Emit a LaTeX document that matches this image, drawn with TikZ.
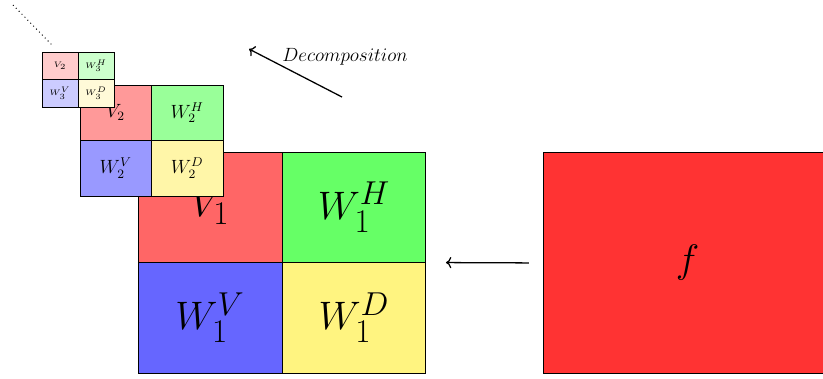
\documentclass[tikz,border=0pt]{standalone}
\usepackage{amsmath,amssymb}
\usepackage{tikz}
\usetikzlibrary{positioning,arrows.meta,calc}
\usepackage{xcolor}
\definecolor{sunYellow}{HTML}{FFF480}
\definecolor{paleYellow}{HTML}{FFF6A8}
\definecolor{ivoryYellow}{HTML}{FFFAD8}

\begin{document}
\begin{tikzpicture}[x=0.022cm, y=-0.022cm,
    cellBig/.style={rectangle, draw=black, semithick, outer sep=0pt, inner sep=0pt, minimum width=3.168cm, minimum height=2.431cm, font=\Huge},
    cellMid/.style={rectangle, draw=black, semithick, outer sep=0pt, inner sep=0pt, minimum width=1.573cm, minimum height=1.221cm, font=\large},
    cellSmall/.style={rectangle, draw=black, semithick, outer sep=0pt, inner sep=0pt, minimum width=0.792cm, minimum height=0.605cm, font=\tiny},
    arrowStyle/.style={->, thick, draw=black}
]
    \useasboundingbox (0,0) rectangle (823,378);

    \node[cellBig, fill=red!60, anchor=north west] (V1) at (138,152) {$V_1$};
    \node[cellBig, fill=green!60, right=0pt of V1] (W1H) {$W_1^H$};
    \node[cellBig, fill=blue!60, below=0pt of V1] (W1V) {$W_1^V$};
    \node[cellBig, fill=sunYellow, right=0pt of W1V] (W1D) {$W_1^D$};

    \node[cellMid, fill=red!40, anchor=north west] (V2) at (80,85) {$V_2$};
    \node[cellMid, fill=green!40, right=0pt of V2] (W2H) {$W_2^H$};
    \node[cellMid, fill=blue!40, below=0pt of V2] (W2V) {$W_2^V$};
    \node[cellMid, fill=paleYellow, right=0pt of W2V] (W2D) {$W_2^D$};

    \node[cellSmall, fill=red!20, anchor=north west] (V3) at (42,52) {$V_2$};
    \node[cellSmall, fill=green!20, right=0pt of V3] (W3H) {$W_3^H$};
    \node[cellSmall, fill=blue!20, below=0pt of V3] (W3V) {$W_3^V$};
    \node[cellSmall, fill=ivoryYellow, right=0pt of W3V] (W3D) {$W_3^D$};

    \node[rectangle, draw=black, semithick, fill=red!80, anchor=north west, minimum width=6.336cm, minimum height=4.862cm, font=\fontsize{29}{34}\selectfont] (f) at (543,152) {$f$};

    \draw[arrowStyle, shorten <=0.31cm, shorten >=0.44cm] (f.west) -- (W1D.north east);

    \coordinate (decTail) at (342,97);
    \coordinate (decHead) at (249,49);
    \draw[arrowStyle] (decTail) -- (decHead);
    \node[font=\large] (decLabel) at (345,57) {$Decomposition$};

    \coordinate (dotFar) at (13,5);
    \coordinate (dotNear) at (52,45);
    \draw[dotted, semithick, black] (dotFar) -- (dotNear);
\end{tikzpicture}
\end{document}
